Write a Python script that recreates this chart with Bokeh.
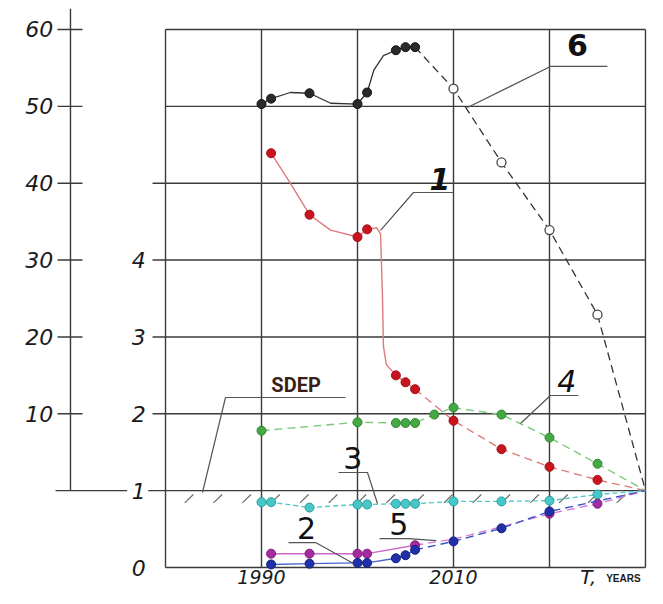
from bokeh.plotting import figure
from bokeh.models import Range1d
from bokeh.core.properties import value
from bokeh.embed import file_html
from bokeh.resources import INLINE

# ---------------- data ----------------
# inner scale: ratio (0..4 labels), outer scale: 0..60 (series 1 and 6)
year_labels = ["1990", "2010"]
year_label_pos = [1990, 2010]
outer_ticks = [10, 20, 30, 40, 50, 60]
inner_ticks = [0, 1, 2, 3, 4]
grid_years = [1980, 1990, 2000, 2010, 2020, 2030]
grid_inner = [0, 1, 2, 3, 4, 5, 6, 7]

# series 6 (black, outer scale)
s6_line_years = [1990, 1991, 1993, 1995, 1997.2, 2000, 2001, 2001.7, 2002.7, 2004, 2005, 2006]
s6_line_vals = [50.3, 51.0, 51.8, 51.7, 50.4, 50.3, 51.8, 54.7, 56.6, 57.3, 57.7, 57.7]
s6_pt_years = [1990, 1991, 1995, 2000, 2001, 2004, 2005, 2006]
s6_pt_vals = [50.3, 51.0, 51.7, 50.3, 51.8, 57.3, 57.7, 57.7]
s6_fc_years = [2006, 2010, 2015, 2020, 2025, 2030]
s6_fc_vals = [57.7, 52.3, 42.7, 33.9, 22.9, 0.0]
s6_open_years = [2010, 2015, 2020, 2025]
s6_open_vals = [52.3, 42.7, 33.9, 22.9]

# series 1 (red, outer scale)
s1_line_years = [1991, 1993, 1995, 1997.2, 2000, 2001, 2002.0, 2002.4, 2002.6, 2002.7, 2003.0, 2004, 2005, 2006]
s1_line_vals = [43.9, 40.0, 35.9, 33.9, 33.0, 34.0, 34.2, 33.4, 25.3, 18.8, 16.4, 15.0, 14.1, 13.2]
s1_fc_years = [2006, 2010, 2015, 2020, 2025, 2030]
s1_fc_vals = [13.2, 9.1, 5.4, 3.1, 1.4, 0.0]
s1_pt_years = [1991, 1995, 2000, 2001, 2004, 2005, 2006, 2010, 2015, 2020, 2025]
s1_pt_vals = [43.9, 35.9, 33.0, 34.0, 15.0, 14.1, 13.2, 9.1, 5.4, 3.1, 1.4]

# series 4 (green, inner scale)
s4_years = [1990, 2000, 2004, 2005, 2006, 2008, 2010, 2015, 2020, 2025, 2030]
s4_vals = [1.78, 1.89, 1.88, 1.88, 1.88, 1.99, 2.08, 1.99, 1.69, 1.35, 1.0]
s4_pt_years = [1990, 2000, 2004, 2005, 2006, 2008, 2010, 2015, 2020, 2025]
s4_pt_vals = [1.78, 1.89, 1.88, 1.88, 1.88, 1.99, 2.08, 1.99, 1.69, 1.35]

# series 3 (cyan, inner scale)
s3_years = [1990, 1991, 1995, 2000, 2001, 2004, 2005, 2006, 2010, 2015, 2020, 2025, 2030]
s3_vals = [0.85, 0.85, 0.78, 0.82, 0.82, 0.83, 0.83, 0.83, 0.86, 0.86, 0.87, 0.95, 1.0]

# series 2 (magenta, inner scale)
s2_hist_years = [1991, 1995, 2000, 2001, 2006]
s2_hist_vals = [0.18, 0.18, 0.18, 0.18, 0.29]
s2_fc_years = [2006, 2010, 2015, 2020, 2025, 2030]
s2_fc_vals = [0.29, 0.37, 0.53, 0.70, 0.83, 1.0]
s2_pt_years = [1991, 1995, 2000, 2001, 2006, 2020, 2025]
s2_pt_vals = [0.18, 0.18, 0.18, 0.18, 0.29, 0.70, 0.83]

# series 5 (blue, inner scale)
s5_hist_years = [1991, 1995, 2000, 2001, 2004, 2005, 2006]
s5_hist_vals = [0.04, 0.05, 0.06, 0.06, 0.12, 0.16, 0.23]
s5_fc_years = [2006, 2010, 2015, 2020, 2030]
s5_fc_vals = [0.23, 0.34, 0.51, 0.73, 1.0]
s5_pt_years = [1991, 1995, 2000, 2001, 2004, 2005, 2006, 2010, 2015, 2020]
s5_pt_vals = [0.04, 0.05, 0.06, 0.06, 0.12, 0.16, 0.23, 0.34, 0.51, 0.73]

# hatch marks under the SDEP line
hatch_years = [1982, 1985, 1988, 1991, 1994, 1997, 2000, 2003, 2006, 2009, 2012, 2015, 2018, 2021, 2024, 2027]

# ---------------- figure ----------------
p = figure(width=647, height=588,
           x_range=Range1d(1962.81, 2030.21), y_range=Range1d(-0.273, 7.377),
           output_backend="svg", toolbar_location=None,
           x_axis_location=None, y_axis_location=None,
           min_border=0, outline_line_color=None)
p.grid.visible = False
p.extra_y_ranges = {"outer": Range1d(-12.73, 63.77)}
p.background_fill_color = "white"

GRID = "#3a3a3a"
GW = 1.4
FONT = value("DejaVu Sans")

# grid verticals
p.segment(x0=grid_years, x1=grid_years,
          y0=[grid_inner[0]] * len(grid_years),
          y1=[grid_inner[-1]] * len(grid_years), line_color=GRID, line_width=GW)
# grid horizontals
hx0 = []
hy = []
for g in grid_inner:
    if g == 1:
        continue
    hy.append(g)
    hx0.append(1978.65 if 2 <= g <= 5 else 1980)
p.segment(x0=hx0, x1=[2030] * len(hy), y0=hy, y1=hy, line_color=GRID, line_width=GW)
# the base line (value 1 / outer 0) with a gap for its label
p.segment(x0=[1968.54, 1978.2], x1=[1976.0, 2030], y0=[1, 1], y1=[1, 1],
          line_color=GRID, line_width=GW)

# outer axis
p.segment(x0=[1970.1], x1=[1970.1], y0=[0], y1=[62.7], line_color=GRID, line_width=GW,
          y_range_name="outer")
p.segment(x0=[1968.75] * len(outer_ticks), x1=[1971.35] * len(outer_ticks),
          y0=outer_ticks, y1=outer_ticks, line_color=GRID, line_width=GW,
          y_range_name="outer")
p.text(x=[1968.3] * len(outer_ticks), y=outer_ticks, text=[str(t) for t in outer_ticks],
       text_font=FONT, text_font_size="22px", text_font_style="italic",
       text_align="right", text_baseline="middle", text_color="#1a1a1a",
       y_range_name="outer")

# inner axis labels
p.text(x=[1977.2] * len(inner_ticks), y=inner_ticks, text=[str(t) for t in inner_ticks],
       text_font=FONT, text_font_size="22px", text_font_style="italic",
       text_align="center", text_baseline="middle", text_color="#1a1a1a")

# year labels (kept inside the canvas)
p.text(x=year_label_pos, y=[-0.117] * 2, text=year_labels,
       text_font=FONT, text_font_size="19px", text_font_style="italic",
       text_align="center", text_baseline="middle", text_color="#1a1a1a")
p.text(x=[2023.2], y=[-0.117], text=["T,"], text_font=FONT, text_font_size="20px",
       text_font_style="italic", text_align="left", text_baseline="middle",
       text_color="#1a1a1a")
p.text(x=[2025.9], y=[-0.14], text=["YEARS"], text_font=value("Liberation Sans"),
       text_font_size="10px", text_font_style="bold", text_align="left",
       text_baseline="middle", text_color="#1a1a1a")

# hatch marks
p.segment(x0=hatch_years, x1=[h + 0.9 for h in hatch_years],
          y0=[0.84] * len(hatch_years), y1=[0.95] * len(hatch_years),
          line_color="#666666", line_width=1.1)

# ---------------- series ----------------
# 6 black
p.line(s6_line_years, s6_line_vals, line_color="#333333", line_width=1.3, y_range_name="outer")
p.line(s6_fc_years, s6_fc_vals, line_color="#333333", line_width=1.3, line_dash="8 5",
       y_range_name="outer")
p.scatter(s6_pt_years, s6_pt_vals, size=9, fill_color="#2a2a2a", line_color="#111111",
          y_range_name="outer")
p.scatter(s6_open_years, s6_open_vals, size=9, fill_color="white", line_color="#444444",
          line_width=1.3, y_range_name="outer")

# 1 red
p.line(s1_line_years, s1_line_vals, line_color="#e07a7a", line_width=1.4, y_range_name="outer")
p.line(s1_fc_years, s1_fc_vals, line_color="#e07a7a", line_width=1.4, line_dash="8 5",
       y_range_name="outer")
p.scatter(s1_pt_years, s1_pt_vals, size=9, fill_color="#c8141e", line_color="#a01018",
          y_range_name="outer")

# 4 green
p.line(s4_years, s4_vals, line_color="#7cc87c", line_width=1.4, line_dash="8 5")
p.scatter(s4_pt_years, s4_pt_vals, size=9, fill_color="#45a845", line_color="#2f8a2f")

# 3 cyan
p.line(s3_years, s3_vals, line_color="#4ccccc", line_width=1.4, line_dash="5 3")
p.scatter(s3_years[:-1], s3_vals[:-1], size=9, fill_color="#46c8c8", line_color="#2a9c9c")

# 2 magenta
p.line(s2_hist_years, s2_hist_vals, line_color="#cc66cc", line_width=1.4)
p.line(s2_fc_years, s2_fc_vals, line_color="#d47ad4", line_width=1.4, line_dash="8 5")
p.scatter(s2_pt_years, s2_pt_vals, size=9, fill_color="#a62aa0", line_color="#7e1e7a")

# 5 blue
p.line(s5_hist_years, s5_hist_vals, line_color="#4a64cc", line_width=1.4)
p.line(s5_fc_years, s5_fc_vals, line_color="#3c55c0", line_width=1.4, line_dash="8 5")
p.scatter(s5_pt_years, s5_pt_vals, size=9, fill_color="#2030a8", line_color="#141e80")

# ---------------- leaders and labels ----------------
LC = "#555555"
p.line([2011.46, 2020.1, 2026.04], [5.985, 6.519, 6.519], line_color=LC, line_width=1.2)
p.line([2002.4, 2005.83, 2010.0], [4.385, 4.879, 4.879], line_color=LC, line_width=1.2)
p.line([2016.98, 2020.1, 2023.02], [1.874, 2.238, 2.238], line_color=LC, line_width=1.2)
p.line([1998.02, 2001.04, 2002.08], [1.236, 1.236, 0.833], line_color=LC, line_width=1.2)
p.line([1992.81, 1995.63, 1999.58], [0.325, 0.325, 0.052], line_color=LC, line_width=1.2)
p.line([2002.3, 2005.3, 2008.2], [0.377, 0.377, 0.35], line_color=LC, line_width=1.2)
p.line([1998.75, 1986.25, 1983.85], [2.212, 2.212, 0.976], line_color=LC, line_width=1.2)

labels = [("6", 2022.9, 6.80, "bold"), ("1", 2008.6, 5.05, "bold italic"),
          ("4", 2021.8, 2.43, "italic"), ("3", 1999.5, 1.43, "normal"),
          ("2", 1994.7, 0.52, "normal"), ("5", 2004.3, 0.57, "normal")]
for t, x, y, st in labels:
    p.text(x=[x], y=[y], text=[t], text_font=FONT, text_font_size="30px",
           text_font_style=st, text_align="center", text_baseline="middle",
           text_color="#111111")

p.text(x=[1993.6], y=[2.38], text=["SDEP"], text_font=value("Roboto"),
       text_font_size="20px", text_font_style="bold", text_align="center",
       text_baseline="middle", text_color="#3a1f16")

open("out.html", "w").write(file_html(p, INLINE))
